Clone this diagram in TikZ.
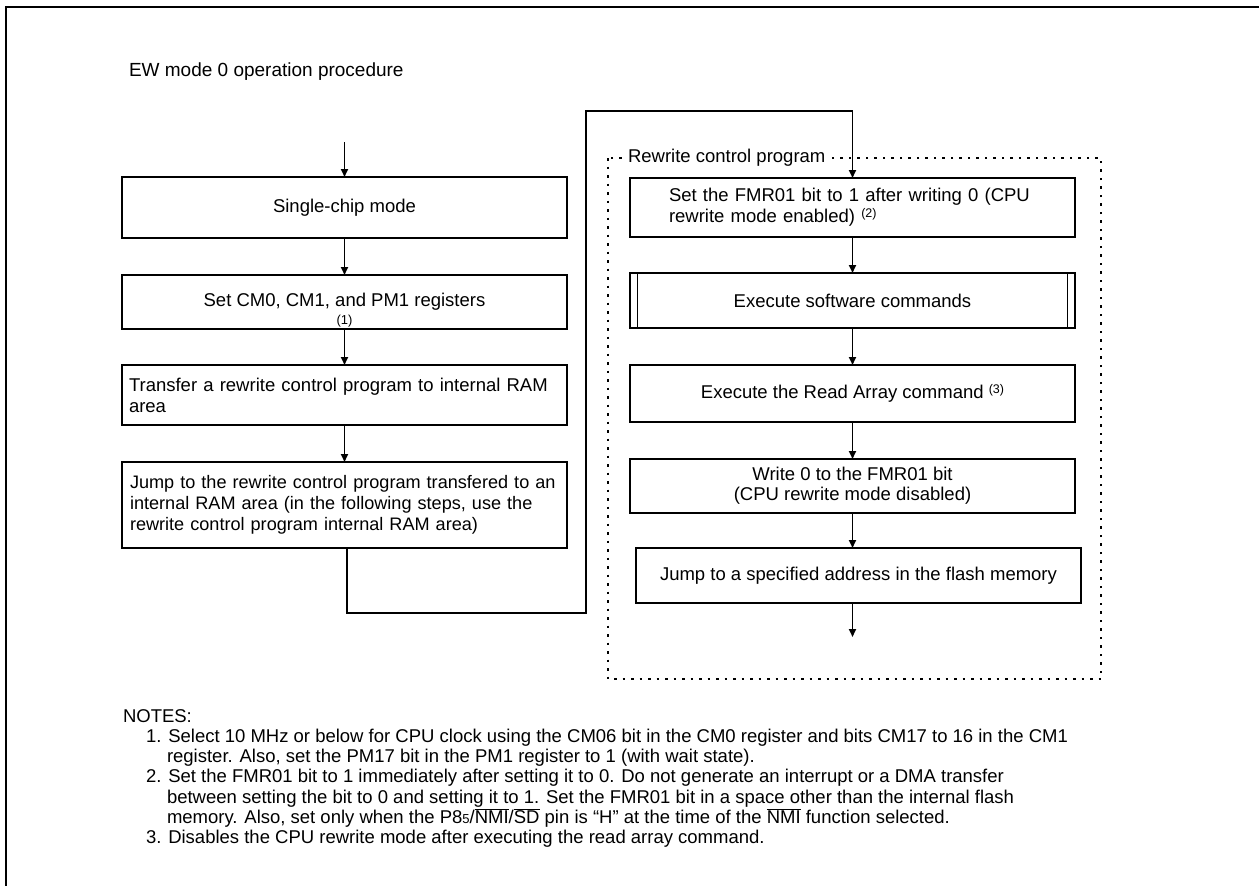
\documentclass[tikz,border=0pt]{standalone}
\usepackage{fontspec}
\setmainfont{Liberation Sans}
\usetikzlibrary{arrows.meta}
\newcommand\ovl[1]{\ensuremath{\overline{\hbox{#1}}}}
\newcommand\smallsup[1]{\raisebox{5pt}{\fontsize{12.5}{12.5}\selectfont #1}}
\begin{document}
\begin{tikzpicture}[x=1pt,y=-1pt,
  every node/.style={inner sep=0pt, outer sep=0pt, font=\fontsize{18.5}{21}\selectfont},
  box/.style={draw, line width=1.2pt, anchor=north, minimum width=445pt, align=center},
  lbox/.style={draw, line width=1.2pt, anchor=north, inner xsep=7pt, text width=431pt, align=left},
  arr/.style={-{Triangle[length=8pt,width=7pt]}, line width=1.7pt},
  conn/.style={line width=1.2pt},
  dotbox/.style={line width=1.3pt, dash pattern=on 2.5pt off 6pt},
  note/.style={anchor=base west}]
\useasboundingbox (0,0) rectangle (1259,886);
% frame
\draw[line width=2.5pt] (6,890) -- (6,7) -- (1265,7);
% title
\node[anchor=west, font=\fontsize{19}{22}\selectfont] (title) at (129,72) {EW mode 0 operation procedure};
% left column
\coordinate (s0) at (344.5,142);
\node[box, minimum height=61pt] (b1) at (344.5,177) {Single-chip mode};
\node[box, minimum height=54pt] (b2) at (344.5,275) {Set CM0, CM1, and PM1 registers};
\node[font=\fontsize{13}{13}\selectfont] (n1) at (344.5,321.5) {(1)};
\node[lbox, minimum height=60pt] (b3) at (344.5,365) {\mbox{Transfer a rewrite control program to internal RAM}\\area};
\node[lbox, minimum height=86pt, inner xsep=8pt, text width=429pt, font=\fontsize{18.1}{21}\selectfont] (b4) at (344.5,462) {\mbox{Jump to the rewrite control program transfered to an}\\\mbox{internal RAM area (in the following steps, use the}\\\mbox{rewrite control program internal RAM area)}};
% dotted region
\draw[dotbox] (608,158) rectangle (1101,679);
\node[anchor=west, fill=white, inner xsep=2pt, inner ysep=1pt] (lbl) at (626,158) {Rewrite control program};
% right column
\node[box, minimum height=59pt, inner xsep=39pt, text width=367pt, align=left, minimum width=0pt] (b5) at (852.5,178) {Set the FMR01 bit to 1 after writing 0 (CPU\\rewrite mode enabled) \smallsup{(2)}};
\node[box, minimum height=55pt] (b6) at (852.5,273) {Execute software commands};
\draw[line width=1.2pt] ([xshift=7.5pt]b6.north west) -- ([xshift=7.5pt]b6.south west);
\draw[line width=1.2pt] ([xshift=-7.5pt]b6.north east) -- ([xshift=-7.5pt]b6.south east);
\node[box, minimum height=57pt] (b7) at (852.5,365) {Execute the Read Array command \smallsup{(3)}};
\node[box, minimum height=54pt, font=\fontsize{18.5}{20}\selectfont] (b8) at (852.5,459) {Write 0 to the FMR01 bit\\(CPU rewrite mode disabled)};
\node[box, minimum height=55pt] (b9) at (858.5,548) {Jump to a specified address in the flash memory};
\coordinate (e0) at (852.5,637);
% connectors
\draw[arr] (s0) -- (b1);
\draw[arr] (b1) -- (b2);
\draw[arr] (b2) -- (b3);
\draw[arr] (b3) -- (b4);
\coordinate (c1) at (347,613);
\coordinate (c2) at (586,613);
\coordinate (c3) at (586,111);
\draw[conn] (b4.south -| c1) -- (c1) -- (c2) -- (c3) -- (c3 -| b5.north);
\draw[arr] (c3 -| b5.north) -- (b5.north);
\draw[arr] (b5) -- (b6);
\draw[arr] (b6) -- (b7);
\draw[arr] (b7) -- (b8);
\draw[arr] (b8.south) -- (b8.south |- b9.north);
\draw[arr] (b9.south -| e0) -- (e0);
% notes
\node[note] (nh) at (123,722) {NOTES:};
\node[note] (n1a) at (146,742.3) {1. Select 10 MHz or below for CPU clock using the CM06 bit in the CM0 register and bits CM17 to 16 in the CM1};
\node[note] (n1b) at (167,762.6) {register. Also, set the PM17 bit in the PM1 register to 1 (with wait state).};
\node[note] (n2a) at (146,782.9) {2. Set the FMR01 bit to 1 immediately after setting it to 0. Do not generate an interrupt or a DMA transfer};
\node[note] (n2b) at (167,803.2) {between setting the bit to 0 and setting it to 1. Set the FMR01 bit in a space other than the internal flash};
\node[note] (n2c) at (167,823.5) {memory. Also, set only when the P8{\fontsize{13}{13}\selectfont 5}/\ovl{NMI}/\ovl{SD} pin is “H” at the time of the \ovl{NMI} function selected.};
\node[note] (n3) at (146,843.8) {3. Disables the CPU rewrite mode after executing the read array command.};
\end{tikzpicture}
\end{document}
